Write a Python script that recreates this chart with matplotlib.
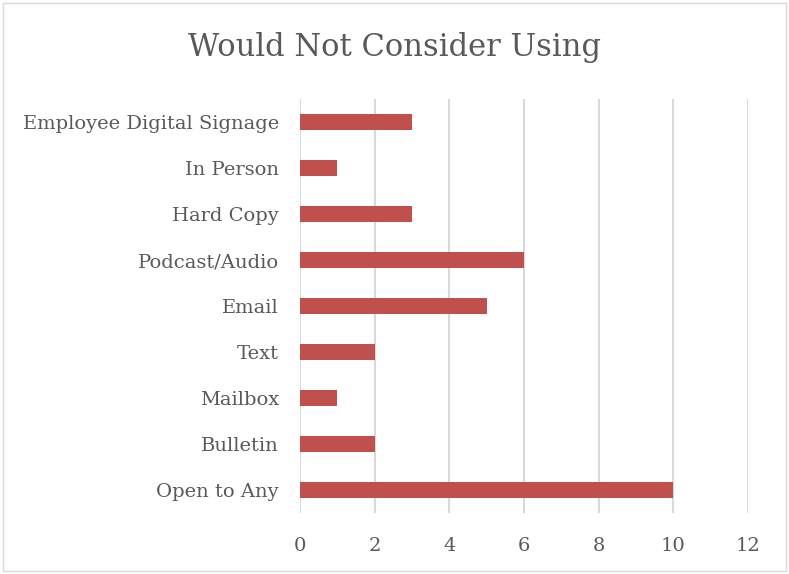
import matplotlib
matplotlib.use("Agg")
import matplotlib.pyplot as plt
from matplotlib.patches import Rectangle

categories = ["Open to Any", "Bulletin", "Mailbox", "Text", "Email",
              "Podcast/Audio", "Hard Copy", "In Person", "Employee Digital Signage"]
values = [10, 2, 1, 2, 5, 6, 3, 1, 3]
x_ticks = [0, 2, 4, 6, 8, 10, 12]
title = "Would Not Consider Using"

text_color = "#595959"
bar_color = "#c0504d"
grid_color = "#d9d9d9"
font = ["DejaVu Serif"]

fig = plt.figure(figsize=(7.89, 5.74), dpi=100)
ax = fig.add_axes([0.380, 0.106, 0.568, 0.7215])

ypos = list(range(len(categories)))
ax.barh(ypos, values, height=0.35, color=bar_color, zorder=3)

ax.set_xlim(0, 12)
ax.set_ylim(-0.5, len(categories) - 0.5)
ax.set_xticks(x_ticks)
ax.set_xticklabels([str(t) for t in x_ticks], family=font, fontsize=14, color=text_color)
ax.set_yticks(ypos)
ax.set_yticklabels(categories, family=font, fontsize=14, color=text_color)
ax.tick_params(length=0)
ax.tick_params(axis="x", pad=17)
ax.tick_params(axis="y", pad=15)
ax.xaxis.grid(True, color=grid_color, linewidth=1.5, zorder=0)
for s in ax.spines.values():
    s.set_visible(False)

fig.text(0.5, 0.917, title, ha="center", va="center", family=font,
         fontsize=22, color=text_color)

fig.patches.append(Rectangle((0.004, 0.005), 0.992, 0.99, transform=fig.transFigure,
                             fill=False, edgecolor="#d9d9d9", linewidth=1))

fig.savefig("out.png", dpi=100)
